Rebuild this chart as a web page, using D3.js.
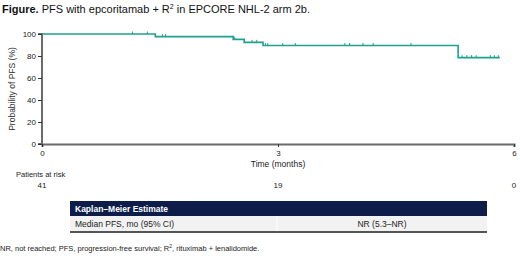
<!DOCTYPE html>
<html>
<head>
<meta charset="utf-8">
<script src="https://cdn.jsdelivr.net/npm/d3@7"></script>
<style>
  body { margin: 0; background: #fff; }
  svg { display: block; font-family: "Liberation Sans", Arial, sans-serif; }
</style>
</head>
<body>
<div id="chart"></div>
<script>
const width = 520;
const height = 256;

// KM step points: time (months) and survival (%)
const stepTimes = [0, 1.44, 2.43, 2.57, 2.81, 5.29];
const stepValues = [100, 97.6, 95.1, 92.4, 89.6, 78.5];
const endTime = 5.82;
// censor marks (months)
const censorTimes = [1.15, 1.34, 1.53, 1.57, 2.45, 2.67, 2.73, 2.84, 2.87, 3.06, 3.22,
    3.85, 3.91, 4.08, 4.21, 4.69, 5.34, 5.40, 5.46, 5.52, 5.70, 5.75, 5.80];
const xTicks = [0, 3, 6];
const yTicks = [0, 20, 40, 60, 80, 100];
const atRisk = [41, 19, 0];

const svg = d3.select("#chart").append("svg")
    .attr("width", width)
    .attr("height", height);

const x = d3.scaleLinear().domain([0, 6]).range([42, 514]);
const y = d3.scaleLinear().domain([0, 100]).range([144, 34]);

// title
const title = svg.append("text").attr("x", 2).attr("y", 13)
    .attr("font-size", 11).attr("fill", "#111");
title.append("tspan").attr("font-weight", "bold").text("Figure.");
title.append("tspan").text(" PFS with epcoritamab + R");
title.append("tspan").attr("font-size", 7).attr("dy", -4).text("2");
title.append("tspan").attr("dy", 4).text(" in EPCORE NHL-2 arm 2b.");

// axes
const axisColor = "#6b6b6b";
const yAxis = svg.append("g")
    .attr("transform", `translate(${x(0)},0)`)
    .call(d3.axisLeft(y).tickValues(yTicks).tickSize(4).tickPadding(2));
const xAxis = svg.append("g")
    .attr("transform", `translate(0,${y(0)})`)
    .call(d3.axisBottom(x).tickValues(xTicks).tickFormat(d3.format("d"))
        .tickSize(3).tickPadding(3));

[yAxis, xAxis].forEach(g => {
    g.select(".domain").attr("stroke", axisColor).attr("stroke-width", 2);
    g.selectAll(".tick line").attr("stroke", "#333").attr("stroke-width", 1);
    g.selectAll(".tick text").attr("font-size", 8).attr("fill", "#222")
        .attr("font-family", "Liberation Sans, Arial, sans-serif");
});
yAxis.select(".domain").attr("d", `M-4,${y(100)}H0V${y(0)}H-4`);

svg.append("text")
    .attr("transform", `translate(15,${(y(0) + y(100)) / 2}) rotate(-90)`)
    .attr("text-anchor", "middle")
    .attr("font-size", 8.5).attr("fill", "#333")
    .text("Probability of PFS (%)");

svg.append("text")
    .attr("x", x(3)).attr("y", 167)
    .attr("text-anchor", "middle")
    .attr("font-size", 8.5).attr("fill", "#222")
    .text("Time (months)");

// KM curve
const kmData = stepTimes.map((t, i) => [t, stepValues[i]]);
kmData.push([endTime, stepValues[stepValues.length - 1]]);
const line = d3.line()
    .x(d => x(d[0]))
    .y(d => y(d[1]))
    .curve(d3.curveStepAfter);

const curveColor = "#20a090";
svg.append("path")
    .datum(kmData)
    .attr("fill", "none")
    .attr("stroke", curveColor)
    .attr("stroke-width", 1.6)
    .attr("d", line);

function survAt(t) {
    let v = stepValues[0];
    stepTimes.forEach((s, i) => { if (t >= s) v = stepValues[i]; });
    return v;
}

svg.selectAll(".censor")
    .data(censorTimes)
    .enter().append("line")
    .attr("class", "censor")
    .attr("x1", d => x(d)).attr("x2", d => x(d))
    .attr("y1", d => y(survAt(d)) - 2.5)
    .attr("y2", d => y(survAt(d)))
    .attr("stroke", curveColor)
    .attr("stroke-width", 1);

// patients at risk
svg.append("text")
    .attr("x", 16).attr("y", 177)
    .attr("font-size", 7.5).attr("fill", "#222")
    .text("Patients at risk");

svg.selectAll(".risk")
    .data(atRisk)
    .enter().append("text")
    .attr("class", "risk")
    .attr("x", (d, i) => x(xTicks[i]))
    .attr("y", 188)
    .attr("text-anchor", "middle")
    .attr("font-size", 8).attr("fill", "#222")
    .text(d => d);

// estimate table
const tbl = svg.append("g");
tbl.append("rect")
    .attr("x", 70).attr("y", 201).attr("width", 417).attr("height", 15)
    .attr("fill", "#0e1c4a");
tbl.append("text")
    .attr("x", 75).attr("y", 212)
    .attr("font-size", 8.5).attr("font-weight", "bold").attr("fill", "#fff")
    .text("Kaplan–Meier Estimate");
tbl.append("rect")
    .attr("x", 70).attr("y", 216).attr("width", 417).attr("height", 15)
    .attr("fill", "#f2f2f2");
tbl.append("line")
    .attr("x1", 277).attr("x2", 277).attr("y1", 216).attr("y2", 231)
    .attr("stroke", "#fff").attr("stroke-width", 1);
tbl.append("line")
    .attr("x1", 70).attr("x2", 487).attr("y1", 232).attr("y2", 232)
    .attr("stroke", "#555").attr("stroke-width", 2);
tbl.append("text")
    .attr("x", 75).attr("y", 227)
    .attr("font-size", 8.5).attr("fill", "#222")
    .text("Median PFS, mo (95% CI)");
tbl.append("text")
    .attr("x", 382).attr("y", 227)
    .attr("text-anchor", "middle")
    .attr("font-size", 8.5).attr("fill", "#222")
    .text("NR (5.3–NR)");

// footnote
const foot = svg.append("text")
    .attr("x", 0).attr("y", 251)
    .attr("font-size", 7.5).attr("fill", "#222");
foot.append("tspan").text("NR, not reached; PFS, progression-free survival; R");
foot.append("tspan").attr("font-size", 5).attr("dy", -3).text("2");
foot.append("tspan").attr("dy", 3).text(", rituximab + lenalidomide.");
</script>
</body>
</html>
